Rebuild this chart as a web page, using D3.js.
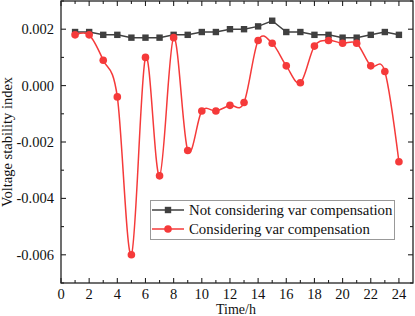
<!DOCTYPE html>
<html>
<head>
<meta charset="utf-8">
<script src="https://cdn.jsdelivr.net/npm/d3@7"></script>
<style>
  body { margin: 0; background: #fff; }
  text { font-family: "Liberation Serif", "Times New Roman", serif; }
</style>
</head>
<body>
<script>
// Data
const hours = d3.range(1, 25);
const notConsidering = [0.0019, 0.0019, 0.0018, 0.0018, 0.0017, 0.0017, 0.0017, 0.0018,
  0.0018, 0.0019, 0.0019, 0.002, 0.002, 0.0021, 0.0023, 0.0019, 0.0019, 0.0018,
  0.0018, 0.0017, 0.0017, 0.0018, 0.0019, 0.0018];
const considering = [0.0018, 0.0018, 0.0009, -0.0004, -0.006, 0.001, -0.0032, 0.0017,
  -0.0023, -0.0009, -0.0009, -0.0007, -0.0006, 0.0016, 0.0015, 0.0007, 0.0001, 0.0014,
  0.0016, 0.0015, 0.0015, 0.0007, 0.0005, -0.0027];
const xTicks = d3.range(0, 26, 2);
const yTicks = [-0.006, -0.004, -0.002, 0.000, 0.002];
const seriesNames = ["Not considering var compensation", "Considering var compensation"];

const width = 415, height = 316;
const mLeft = 61, mRight = 413, mTop = 1, mBottom = 283;
const gray = "#404040", red = "#f53a3a";

const svg = d3.select("body").append("svg")
  .attr("width", width)
  .attr("height", height);

const x = d3.scaleLinear().domain([0, 25]).range([mLeft, mRight]);
const y = d3.scaleLinear().domain([-0.007, 0.003]).range([mBottom, mTop]);

// Frame
svg.append("rect")
  .attr("x", mLeft).attr("y", mTop)
  .attr("width", mRight - mLeft).attr("height", mBottom - mTop)
  .attr("fill", "none").attr("stroke", "#222").attr("stroke-width", 1.3);

// Inward ticks on all four sides
const xMinor = d3.range(1, 25, 2);
const yMinor = [-0.007, -0.005, -0.003, -0.001, 0.001, 0.003];
const tickG = svg.append("g").attr("stroke", "#222").attr("stroke-width", 1.1);
xTicks.concat(xMinor).forEach(t => {
  const len = xTicks.includes(t) ? 5 : 3;
  tickG.append("line").attr("x1", x(t)).attr("x2", x(t)).attr("y1", mBottom).attr("y2", mBottom - len);
  tickG.append("line").attr("x1", x(t)).attr("x2", x(t)).attr("y1", mTop).attr("y2", mTop + len);
});
yTicks.forEach(t => {
  tickG.append("line").attr("x1", mLeft).attr("x2", mLeft + 5).attr("y1", y(t)).attr("y2", y(t));
  tickG.append("line").attr("x1", mRight).attr("x2", mRight - 5).attr("y1", y(t)).attr("y2", y(t));
});
yMinor.forEach(t => {
  tickG.append("line").attr("x1", mLeft).attr("x2", mLeft + 3).attr("y1", y(t)).attr("y2", y(t));
  tickG.append("line").attr("x1", mRight).attr("x2", mRight - 3).attr("y1", y(t)).attr("y2", y(t));
});

// Tick labels
svg.append("g").selectAll("text").data(xTicks).join("text")
  .attr("x", d => x(d)).attr("y", 299)
  .attr("text-anchor", "middle").attr("font-size", 14.5).attr("fill", "#111")
  .text(d => d);
svg.append("g").selectAll("text").data(yTicks).join("text")
  .attr("x", 54).attr("y", d => y(d) + 5)
  .attr("text-anchor", "end").attr("font-size", 14.5).attr("fill", "#111")
  .text(d => d3.format(".3f")(d).replace("−", "-"));

// Axis titles
svg.append("text")
  .attr("x", (mLeft + mRight) / 2 - 1).attr("y", 313.5)
  .attr("text-anchor", "middle").attr("font-size", 14).attr("fill", "#111")
  .text("Time/h");
svg.append("text")
  .attr("transform", `translate(12,${(mTop + mBottom) / 2}) rotate(-90)`)
  .attr("text-anchor", "middle").attr("font-size", 14.5).attr("fill", "#111")
  .text("Voltage stability index");

// Series
const linear = d3.line().x((d, i) => x(hours[i])).y(d => y(d));
const smooth = d3.line().x((d, i) => x(hours[i])).y(d => y(d)).curve(d3.curveCardinal.tension(0));

svg.append("path").datum(notConsidering)
  .attr("d", linear).attr("fill", "none").attr("stroke", gray).attr("stroke-width", 1.5);
svg.append("g").selectAll("rect").data(notConsidering).join("rect")
  .attr("x", (d, i) => x(hours[i]) - 3.2).attr("y", d => y(d) - 3.2)
  .attr("width", 6.4).attr("height", 6.4).attr("fill", gray);

svg.append("path").datum(considering)
  .attr("d", smooth).attr("fill", "none").attr("stroke", red).attr("stroke-width", 1.5);
svg.append("g").selectAll("circle").data(considering).join("circle")
  .attr("cx", (d, i) => x(hours[i])).attr("cy", d => y(d))
  .attr("r", 3.8).attr("fill", red);

// Legend
const legend = svg.append("g");
legend.append("rect")
  .attr("x", 150.5).attr("y", 200.5).attr("width", 244).attr("height", 39)
  .attr("fill", "#fff").attr("stroke", "#999").attr("stroke-width", 1);
[gray, red].forEach((c, i) => {
  const ly = 210 + i * 19;
  legend.append("line").attr("x1", 152).attr("x2", 184).attr("y1", ly).attr("y2", ly)
    .attr("stroke", c).attr("stroke-width", 1.5);
  if (i === 0) {
    legend.append("rect").attr("x", 168 - 3.2).attr("y", ly - 3.2).attr("width", 6.4).attr("height", 6.4).attr("fill", c);
  } else {
    legend.append("circle").attr("cx", 168).attr("cy", ly).attr("r", 3.8).attr("fill", c);
  }
  legend.append("text").attr("x", 189).attr("y", ly + 5)
    .attr("font-size", 14.8).attr("fill", "#111").text(seriesNames[i]);
});
</script>
</body>
</html>
